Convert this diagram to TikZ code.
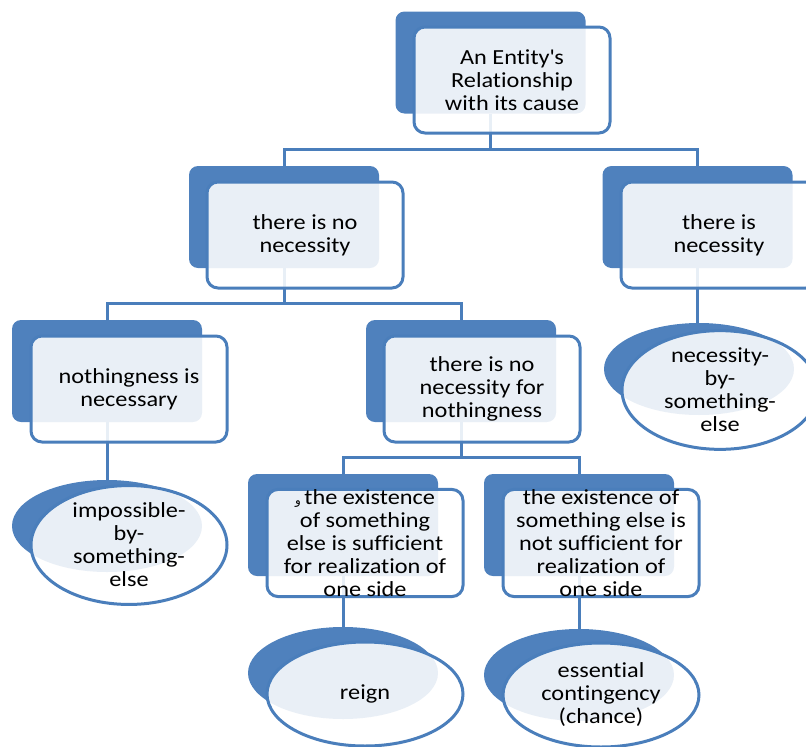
\documentclass[tikz,border=0pt]{standalone}
\usepackage{fontspec}
\setmainfont{Carlito}[FakeStretch=1.13,Ligatures={NoCommon}]
\newfontfamily\arabicfont[Script=Arabic]{DejaVu Sans}
\TeXXeTstate=1
\usetikzlibrary{calc,shapes.geometric}
\definecolor{dk}{HTML}{4F81BD}
\definecolor{bd}{HTML}{4A7EBB}
\begin{document}
\begin{tikzpicture}[x=1pt,y=-1pt,
  backbox/.style={rectangle, fill=dk, rounded corners=9pt, minimum width=190pt, minimum height=102pt, inner sep=0pt, outer sep=0pt},
  frontbox/.style={rectangle, draw=bd, line width=3pt, fill=white, fill opacity=0.88, text opacity=1, draw opacity=1, rounded corners=11pt, minimum width=196pt, minimum height=106pt, inner sep=0pt, outer sep=0pt, align=center, font=\fontsize{21.5}{23}\selectfont},
  backell/.style={ellipse, fill=dk, minimum width=190pt, minimum height=92pt, inner sep=0pt, outer sep=0pt},
  frontell/.style={ellipse, draw=bd, line width=3pt, fill=white, fill opacity=0.88, text opacity=1, draw opacity=1, minimum width=196pt, minimum height=104pt, inner sep=0pt, outer sep=0pt, align=center, font=\fontsize{21.5}{23}\selectfont},
  conn/.style={draw=bd, line width=3pt}]
\useasboundingbox (0,0) rectangle (806,747);
% back shapes
\node[backbox] (topB) at (490.5,62.5) {};
\node[backbox] (l2aB) at (284,217) {};
\node[backbox] (l2bB) at (697.5,217) {};
\node[backbox] (l3aB) at (107,371) {};
\node[backbox] (l3bB) at (461,371) {};
\node[backbox] (l4aB) at (343,525) {};
\node[backbox] (l4bB) at (579,525) {};
\node[backell] (e1B) at (699,369) {};
\node[backell] (e2B) at (107,526) {};
\node[backell] (e3B) at (343,673) {};
\node[backell] (e4B) at (579,675) {};
% junction coordinates
\coordinate (j1) at (490,149);
\coordinate (j2) at (284,303);
\coordinate (j3) at (461,457);
% connectors
\draw[conn] (topB.south) -- (topB.south |- j1);
\draw[conn] (l2aB.north) -- (l2aB.north |- j1) -- (l2bB.north |- j1) -- (l2bB.north);
\draw[conn] (l2aB.south) -- (l2aB.south |- j2);
\draw[conn] (l3aB.north) -- (l3aB.north |- j2) -- (l3bB.north |- j2) -- (l3bB.north);
\draw[conn] (l3bB.south) -- (l3bB.south |- j3);
\draw[conn] (l4aB.north) -- (l4aB.north |- j3) -- (l4bB.north |- j3) -- (l4bB.north);
\draw[conn] (l2bB.south) -- (l2bB.south |- e1B.north);
\draw[conn] (l3aB.south) -- (l3aB.south |- e2B.north);
\draw[conn] (l4aB.south) -- (l4aB.south |- e3B.north);
\draw[conn] (l4bB.south) -- (l4bB.south |- e4B.north);
% front shapes
\node[frontbox] (topF) at (512,80) {An Entity\textquotesingle s\\Relationship\\with its cause};
\node[frontbox] (l2aF) at (305,235) {there is no\\necessity};
\node[frontbox] (l2bF) at (719,235) {there is\\necessity};
\node[frontbox] (l3aF) at (129,389) {nothingness is\\necessary};
\node[frontbox] (l3bF) at (482,389) {there is no\\necessity for\\nothingness};
\node[frontbox] (l4aF) at (365,543) {{\arabicfont\fontsize{12}{12}\selectfont\beginR و\endR}\,the existence\\of something\\else is sufficient\\for realization of\\one side};
\node[frontbox] (l4bF) at (601,543) {the existence of\\something else is\\not sufficient for\\realization of\\one side};
\node[frontell] (e1F) at (720,390) {necessity-\\by-\\something-\\else};
\node[frontell] (e2F) at (129,545) {impossible-\\by-\\something-\\else};
\node[frontell] (e3F) at (365,694) {reign};
\node[frontell] (e4F) at (601,695) {essential\\contingency\\(chance)};
\end{tikzpicture}
\end{document}
